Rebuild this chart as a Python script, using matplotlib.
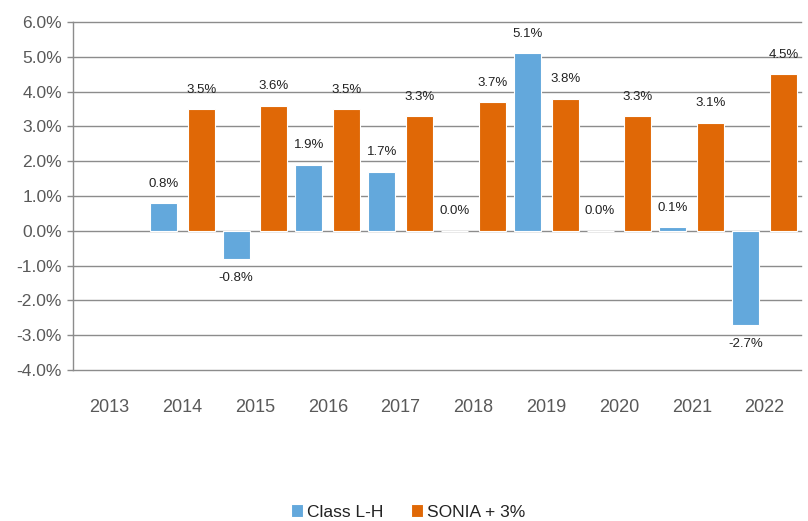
import numpy as np
import matplotlib.pyplot as plt
from matplotlib.ticker import FuncFormatter

plt.rcParams['font.family'] = ['Liberation Sans', 'DejaVu Sans']

years = ['2013', '2014', '2015', '2016', '2017', '2018', '2019', '2020', '2021', '2022']
class_lh = [np.nan, 0.8, -0.8, 1.9, 1.7, 0.0, 5.1, 0.0, 0.1, -2.7]
sonia = [np.nan, 3.5, 3.6, 3.5, 3.3, 3.7, 3.8, 3.3, 3.1, 4.5]

blue = '#63a8dc'
orange = '#e06806'
grid_col = '#8c8c8c'
txt_col = '#595959'

fig = plt.figure(figsize=(8.08, 5.21), dpi=100)
ax = fig.add_axes([73 / 808, 1 - 370 / 521, (801 - 73) / 808, (370 - 22) / 521])

x = np.arange(len(years))
w = 0.37
off = 0.26
b1 = ax.bar(x - off, class_lh, w, color=blue, edgecolor='white', linewidth=0.8, label='Class L-H', zorder=3)
b2 = ax.bar(x + off, sonia, w, color=orange, edgecolor='white', linewidth=0.8, label='SONIA + 3%', zorder=3)

# etiquetas de valores
for bars, vals in [(b1, class_lh), (b2, sonia)]:
    for rect, v in zip(bars, vals):
        if np.isnan(v):
            continue
        cx = rect.get_x() + rect.get_width() / 2
        dy = -14 if v < 0 else 14
        ax.annotate(f'{v:.1f}%', (cx, v), xytext=(0, dy), textcoords='offset points',
                    ha='center', va='center', fontsize=9.5, color='#222222')

ax.set_xlim(-0.5, len(years) - 0.5)
ax.set_ylim(-4, 6)
ax.set_yticks(np.arange(-4, 7, 1))
ax.yaxis.set_major_formatter(FuncFormatter(lambda v, p: f'{v:.1f}%'))
ax.set_xticks(x)
ax.set_xticklabels(years)
ax.grid(axis='y', color=grid_col, linewidth=1.0, zorder=0)
ax.set_axisbelow(True)
for gl in ax.get_ygridlines():
    gl.set_clip_on(False)

for s in ['top', 'right', 'bottom']:
    ax.spines[s].set_visible(False)
ax.spines['left'].set_color(grid_col)
ax.spines['left'].set_linewidth(1.0)
ax.tick_params(axis='y', colors=grid_col, labelcolor=txt_col, labelsize=12.5, length=4, width=1.0, pad=4)
ax.tick_params(axis='x', length=0, labelcolor=txt_col, labelsize=13, pad=21)

fig.legend(handles=[b1, b2], loc='center', bbox_to_anchor=(408 / 808, 1 - 512 / 521), ncol=2,
           frameon=False, fontsize=12.5, handlelength=0.7, handleheight=0.7, handletextpad=0.2,
           columnspacing=1.6, labelcolor='#222222', borderpad=0.1)

plt.savefig('out.png', dpi=100)
